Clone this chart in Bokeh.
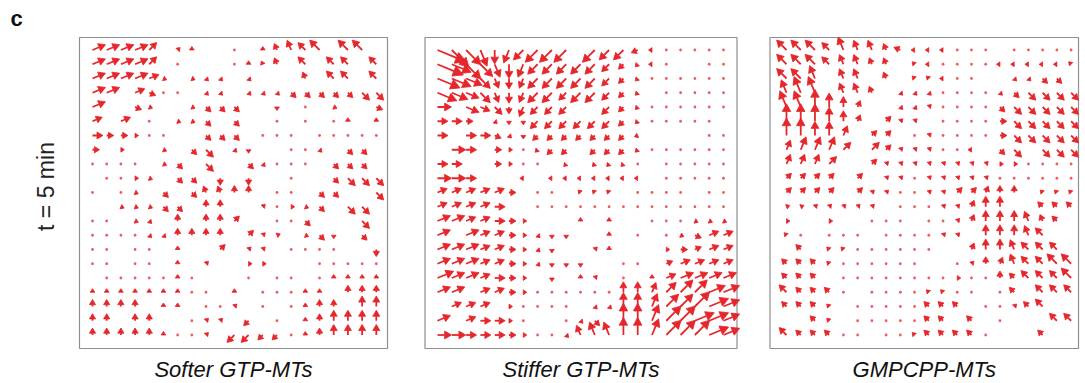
import re
import math
from bokeh.plotting import figure
from bokeh.models import Range1d
from bokeh.embed import file_html
from bokeh.resources import INLINE
from bokeh.core.properties import value

panel_letter = "c"
row_label = "t = 5 min"
panel_titles = ["Softer GTP-MTs", "Stiffer GTP-MTs", "GMPCPP-MTs"]

# Vector field, 21 x 21 grid per panel, rows from top to bottom.
# token = compass direction + magnitude step, "o" = tiny vector, "." = none
softer_rows = [
    "ENE4 ENE4 ENE4 ENE4 NE3 . NE1 N1 . . o . N1 NNW2 NNW3 NW3 NW4 . NW4 NW4 .",
    "ENE4 ENE4 ENE4 ENE4 NE3 . o . . . o N1 NNW1 NNW2 . NW3 . NW3 NW3 . NW3",
    "ENE4 ENE4 ENE4 ENE4 ENE3 ESE1 . ESE1 SE1 SE1 . SE1 . . . NNW2 . NW3 NW3 . NW3",
    "ENE4 ENE4 . ENE3 ESE2 o o . SE1 SE1 . SE1 SE1 SE1 SE2 SE2 SE2 SE2 SE2 SE3 SE3",
    "ENE4 . . ESE2 ESE1 . . ESE1 SE2 SE2 SE2 . . S1 . o . ESE1 . . ESE2",
    "ENE3 . ENE3 . o . ESE1 ESE1 SE2 . SE2 . . o . o . o N1 . N1",
    "E3 E2 E2 E1 o o . . SE2 SE2 SE2 . o o o . o o o o o",
    "E2 . E1 . . ESE1 . SE2 SE3 . SE1 S1 . . o o SE1 . SE2 SE2 .",
    "o o o o . ESE1 SE2 . SE3 . . SE2 SE1 o o o . SE2 SE2 SE2 .",
    ". o o E1 ESE1 . SE2 SE2 . S2 . S2 . . o . . SE2 SE3 SE3 SE3",
    "o . o ESE1 . SE2 . SE2 NNW2 NNW2 N2 N2 . o o . SE2 SE2 . . SE3",
    ". . ESE1 ESE1 ESE1 SE2 SE2 . N2 N2 . . NE1 o E1 ESE1 SE2 . SE3 SE3 .",
    "o o . ESE1 SE1 . N2 . N2 N2 NE2 . . o o SE2 . . . SE3 .",
    "o o o o SE1 SE1 N2 N2 N2 N2 . NE2 NE1 ENE1 . ESE1 SE2 S1 . SE2 .",
    "o o . o o . N1 . . NE2 . NE1 NE1 . o o o o . . S2",
    "o o . o o . N1 . NE1 . . E1 E1 . . . o o o o o",
    ". o o o o o N1 o . . . o . o o . o N1 N1 N1 N1",
    "N1 N1 N1 N1 N1 N1 N1 o o . N1 . o o o N1 N1 . N2 N2 N2",
    "N2 N2 N2 N2 . N1 N1 . o o NE1 . o . o N1 N2 N2 . N3 N3",
    "N2 N2 . N2 N2 . . o NE1 NE1 . SW2 . o . N1 N2 N3 N3 N3 N3",
    "N2 N2 N2 N2 N2 N1 o o NE1 . SW3 SW3 SW2 SW2 o N1 N2 N3 N3 N3 N3",
]

stiffer_rows = [
    "ESE9 SE7 SE6 SSE5 S4 SSW4 SW4 SW5 SW5 SW5 . SW5 SW4 SW4 WSW2 W1 o o o o o",
    "ESE8 ESE6 SE6 SE5 SSE4 S4 SSW4 SW4 SW4 SW4 SW4 SW4 SW3 SW2 SW1 W1 o . . o o",
    "ESE7 ESE6 ESE5 SE4 SSE3 S3 SSW3 SW4 SW4 SW4 SW4 SW4 SW3 SW2 SW1 o o o o o o",
    "ESE6 ESE5 ESE4 SE4 SSE3 S3 SSW3 SW4 SW4 SW3 SW4 SW4 SW3 SW2 SW1 . o o o o o",
    "E4 . ESE4 ESE3 SE3 S2 SSW3 SW3 SW3 SW3 . . SW3 SW2 SW1 o o o o o o",
    "E3 E3 E2 . SE1 S1 S1 SW3 SW3 SW3 SW3 SW3 SW3 SW2 SW1 o o o o o .",
    "E3 . E3 E3 ESE2 SE1 S1 SW2 SW2 SW2 SW2 SW2 SW2 SW2 WSW1 . . . . o o",
    ". E4 E3 . E2 E1 o SW1 SW2 SW2 . SW2 SW2 SW2 SW1 o o o o o o",
    "E3 E3 . . E2 E1 o o . SW1 . SW1 SW1 SW1 o . o o o o o",
    "E4 E4 E3 . . . W1 . W1 W1 W1 W1 W1 W1 W1 . o o o o o",
    "ENE3 ENE3 ENE3 ENE3 ENE3 E2 . o o . NW1 NW1 NW1 . o o o o . o o",
    "ENE3 ENE3 ENE3 ENE3 E3 . . o o o o o o o o o o o o o o",
    "ENE4 ENE4 ENE3 ENE3 E3 E2 E1 . . . N1 . N1 . . o o o ESE1 ESE1 ESE1",
    "ENE4 . ENE4 ENE3 ENE3 E2 E1 SE1 S1 S1 . . N1 . o . o ESE1 ESE2 ENE3 ENE3",
    "ENE4 ENE4 ENE4 ENE3 ENE3 E2 E1 SE1 S1 . . NE1 N1 . . . E1 E2 ENE2 ENE3 ENE3",
    "ENE4 ENE4 ENE4 ENE3 ENE3 E2 E1 SE1 S1 S1 S1 . . o o . ENE2 ENE3 ENE3 ENE3 ENE3",
    "ENE5 ENE4 ENE4 ENE3 E3 E2 E1 . S1 . N1 NE1 . o . N1 ENE3 ENE4 ENE4 ENE4 ENE4",
    "ENE4 ENE4 . ENE3 ENE3 E2 E1 o o o o o o N3 N3 NNE3 NE4 NE5 NE5 ENE5 ENE5",
    ". ENE3 ENE3 ENE3 . E1 o o o o . SE1 SE1 N4 N4 NNE4 NE5 NE5 NE6 ENE6 ENE5",
    "ENE4 . ENE3 E3 E3 E1 o . . o SE1 SE2 . N5 N5 NNE5 NE6 NE6 ENE6 ENE6 ENE5",
    "E4 E4 E3 E3 E3 E2 E1 o o SE1 NNW3 NNW4 NNW4 N5 N5 NNE5 NE6 NE6 NE6 ENE6 ENE5",
]

gmpcpp_rows = [
    "NW4 NW4 NW4 NW3 NNW4 NNW3 NNW3 NNW2 WNW2 W1 W1 W1 o o o . o o o o o",
    "NW4 NW4 NW4 NW3 NNW3 NNW3 NNW2 NNW2 . NW1 W1 o o o o W1 W1 W1 W1 W1 NW1",
    "NW4 NW4 NNW4 . NNW3 NNW3 . NNW2 . NW1 NW1 W1 o o . . SE1 SE1 SE2 SE2 .",
    "NNW4 NNW5 NNW5 . NNW3 NNW3 NNW2 . SE1 SE1 SE1 o o o o SE1 SE2 SE3 SE3 SE3 SE3",
    "NNW5 NNW5 N5 N4 N3 NNE2 . . SE1 SE1 NE1 o o o o SE2 SE3 SE3 SE3 SE3 SE3",
    "N5 N5 N5 N4 N3 NNE2 . NE2 NE1 NE1 . o o o o E2 SE3 SE3 SE3 SE3 SE3",
    "N5 N5 N4 N4 NNE3 . NE2 NE2 . o NE1 o o o o E2 SE3 SE3 SE3 SE3 SE3",
    "NNE3 NNE4 NNE4 NNE4 NE3 . NE3 NE2 NE1 NE1 NE1 o o W1 . SE2 SE3 . SE3 SE3 SE3",
    "NNE3 NNE3 NNE3 NE3 . . NE2 NE1 NE1 NE1 NE1 NE1 NE1 NE1 NE1 E1 E1 o o o o",
    "NE2 NE2 NE2 NE2 . NE2 . NE1 NE1 o NE1 NE1 NE1 NE1 NE1 o o o o o o",
    "NE2 NE2 NE2 NE2 . NE2 NE1 NE1 o o NE1 NE1 NE2 NE2 NNE2 N2 N2 . NW1 NW1 NW1",
    "ENE1 ENE1 NE1 NE1 NE1 NE1 NE1 . o o o NE1 NE1 NNE2 N3 N3 . . NW2 NW2 NW2",
    "E1 . . E1 . . o o o . o o NE1 NNE2 N3 N3 N3 NNW3 NNW2 NW2 .",
    "NW1 o . o o o . o o o o NE1 NE1 . N3 N3 N3 NNW3 NW3 . .",
    ". NW2 . NW1 NW1 o o o o o o . . NNE2 N3 N3 NNW3 NW3 NW3 NW3 .",
    "NW2 NW2 NW2 NW1 o o o o o o . . o NE1 N2 NNE2 NNW3 NW3 NW3 NW4 NW4",
    "NW2 NW2 NW2 . o o o o o o o o E1 o o N2 NW2 NW3 NW3 NW3 NW4",
    "NW3 NW2 NW2 NW2 o . o o o o NW1 NW1 o o . o NW2 . NW3 NW3 NW3",
    "NW2 NW2 NW2 NW1 . o o o o o NW2 NW2 NW2 . o o NE1 NW2 NW3 . .",
    ". . NW2 NW1 . o o o o o NW2 NW2 . NW2 . o . . . NW3 NW3",
    "NW3 NW2 NW2 NW2 o o . o o NW1 NW2 NW2 NW2 NW2 o . . . NW2 . .",
]

panel_rows = [softer_rows, stiffer_rows, gmpcpp_rows]

COMPASS = ["E", "ENE", "NE", "NNE", "N", "NNW", "NW", "WNW",
           "W", "WSW", "SW", "SSW", "S", "SSE", "SE", "ESE"]
ANGLE = {name: i * 22.5 for i, name in enumerate(COMPASS)}

# ---- layout (page pixels) ----
W, H = 1085, 383
box_left = [79, 424.5, 769.5]
box_right = [387, 736.5, 1078]
box_top, box_bottom = 37, 348
grid_x0 = [92.0, 437.0, 786.0]
grid_dx = [14.19, 14.3, 14.23]
grid_y0, grid_dy = 49.5, 14.25
unit_px = 3.5
ARROW = "#e5262b"

p = figure(width=W, height=H, x_range=Range1d(0, W), y_range=Range1d(H, 0),
           output_backend="svg", toolbar_location=None, min_border=0)
p.axis.visible = False
p.grid.visible = False
p.outline_line_color = None
p.background_fill_color = "white"

# panel boxes
p.quad(left=box_left, right=box_right, top=[box_top] * 3, bottom=[box_bottom] * 3,
       fill_color=None, line_color="#8f8f8f", line_width=1.2)

sx0, sy0, sx1, sy1 = [], [], [], []
hx, hy = [], []
dx_, dy_ = [], []
for k, rows in enumerate(panel_rows):
    for r, line in enumerate(rows):
        toks = line.split()
        toks = (toks + ["."] * 21)[:21]
        for c, t in enumerate(toks):
            if t == ".":
                continue
            x0 = grid_x0[k] + c * grid_dx[k]
            y0 = grid_y0 + r * grid_dy
            if t == "o":
                dx_.append(x0)
                dy_.append(y0)
                continue
            m = re.match(r"([A-Z]+)(\d)", t)
            ang = math.radians(ANGLE[m.group(1)])
            L = int(m.group(2)) * unit_px
            ux, uy = math.cos(ang), -math.sin(ang)
            tipx, tipy = x0 + L * ux, y0 + L * uy
            h = min(L, 3.5 + 0.24 * L)
            w = 0.45 * h + 0.8
            bx, by = tipx - h * ux, tipy - h * uy
            px_, py_ = -uy, ux
            hx.append([tipx, bx + w * px_, bx - w * px_])
            hy.append([tipy, by + w * py_, by - w * py_])
            if L > h + 0.3:
                sx0.append(x0); sy0.append(y0); sx1.append(bx); sy1.append(by)

p.segment(x0=sx0, y0=sy0, x1=sx1, y1=sy1, line_color=ARROW, line_width=1.8)
p.patches(xs=hx, ys=hy, fill_color=ARROW, line_color=ARROW, line_width=0.8)
p.scatter(x=dx_, y=dy_, size=2.8, marker="circle", fill_color=ARROW, line_color=None, fill_alpha=0.75)

font = value("Liberation Sans")
p.text(x=[16], y=[18], text=[panel_letter], text_font=font, text_font_style="bold",
       text_font_size="22px", text_align="center", text_baseline="middle", text_color="#111111")
p.text(x=[45], y=[186], text=[row_label], text_font=font, text_font_size="23px",
       text_align="center", text_baseline="middle", angle=math.pi / 2, text_color="#222222")
title_x = [(l + r) / 2 for l, r in zip(box_left, box_right)]
p.text(x=title_x, y=[369] * 3, text=panel_titles, text_font=font, text_font_style="italic",
       text_font_size="22px", text_align="center", text_baseline="middle", text_color="#111111")

open("out.html", "w").write(file_html(p, INLINE))
